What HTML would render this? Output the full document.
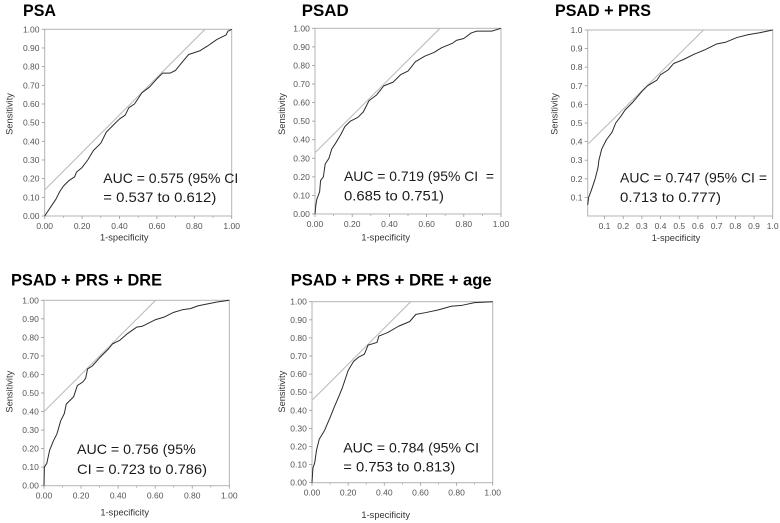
<!DOCTYPE html>
<html lang="en">
<head>
<meta charset="utf-8">
<title>ROC curves</title>
<style>
html,body{margin:0;padding:0;background:#fff;width:780px;height:523px;overflow:hidden}
svg{display:block;font-family:"Liberation Sans",sans-serif}
.title{font-size:17px;font-weight:bold;fill:#000}
.auc{font-size:14px;fill:#1a1a1a}
.axis-title{font-size:9.3px;fill:#333}
.tick-label{font-size:8.5px;fill:#555}
</style>
</head>
<body>
<svg id="chart" width="780" height="523" viewBox="0 0 780 523" xmlns="http://www.w3.org/2000/svg">
  <text class="title" x="23" y="16" textLength="33" lengthAdjust="spacingAndGlyphs">PSA</text>
  <text class="title" x="301.7" y="16" textLength="47" lengthAdjust="spacingAndGlyphs">PSAD</text>
  <text class="title" x="555" y="16" textLength="96" lengthAdjust="spacingAndGlyphs">PSAD + PRS</text>
  <text class="title" x="11" y="285.7" textLength="151" lengthAdjust="spacingAndGlyphs">PSAD + PRS + DRE</text>
  <text class="title" x="290.7" y="285.7" textLength="201" lengthAdjust="spacingAndGlyphs">PSAD + PRS + DRE + age</text>

  <text class="auc" x="103.3" y="183" textLength="135" lengthAdjust="spacingAndGlyphs">AUC = 0.575 (95% CI</text>
  <text class="auc" x="103.3" y="202" textLength="113" lengthAdjust="spacingAndGlyphs">= 0.537 to 0.612)</text>
  <text class="auc" x="344" y="181" textLength="150" lengthAdjust="spacingAndGlyphs" xml:space="preserve">AUC = 0.719 (95% CI  =</text>
  <text class="auc" x="344" y="200.7" textLength="100" lengthAdjust="spacingAndGlyphs">0.685 to 0.751)</text>
  <text class="auc" x="620" y="182.7" textLength="147" lengthAdjust="spacingAndGlyphs">AUC = 0.747 (95% CI =</text>
  <text class="auc" x="620" y="202" textLength="101" lengthAdjust="spacingAndGlyphs">0.713 to 0.777)</text>
  <text class="auc" x="77" y="454" textLength="118.7" lengthAdjust="spacingAndGlyphs">AUC = 0.756 (95%</text>
  <text class="auc" x="77" y="474" textLength="130" lengthAdjust="spacingAndGlyphs">CI = 0.723 to 0.786)</text>
  <text class="auc" x="343.3" y="452.3" textLength="135.7" lengthAdjust="spacingAndGlyphs">AUC = 0.784 (95% CI</text>
  <text class="auc" x="343.3" y="471.7" textLength="112" lengthAdjust="spacingAndGlyphs">= 0.753 to 0.813)</text>

  <text class="axis-title" x="124.3" y="240.7" text-anchor="middle">1-specificity</text>
  <text class="axis-title" x="385.7" y="240.7" text-anchor="middle">1-specificity</text>
  <text class="axis-title" x="676" y="241" text-anchor="middle">1-specificity</text>
  <text class="axis-title" x="124.7" y="515.7" text-anchor="middle">1-specificity</text>
  <text class="axis-title" x="385.7" y="518" text-anchor="middle">1-specificity</text>

  <text class="axis-title" text-anchor="middle" transform="translate(12.5 114) rotate(-90)">Sensitivity</text>
  <text class="axis-title" text-anchor="middle" transform="translate(285 114) rotate(-90)">Sensitivity</text>
  <text class="axis-title" text-anchor="middle" transform="translate(557.5 114) rotate(-90)">Sensitivity</text>
  <text class="axis-title" text-anchor="middle" transform="translate(12.5 391.7) rotate(-90)">Sensitivity</text>
  <text class="axis-title" text-anchor="middle" transform="translate(285 391.7) rotate(-90)">Sensitivity</text>
</svg>
<script>
// ---- Chart data ----
const psaFpr = [0,0.02,0.04,0.06,0.08,0.10,0.13,0.16,0.17,0.20,0.23,0.26,0.30,0.33,0.37,0.40,0.43,0.45,0.48,0.50,0.52,0.56,0.60,0.63,0.67,0.70,0.74,0.77,0.83,0.87,0.92,0.97,0.98,1];
const psaSens = [0,0.03,0.06,0.09,0.13,0.16,0.19,0.21,0.235,0.26,0.30,0.35,0.39,0.45,0.49,0.52,0.54,0.58,0.60,0.63,0.66,0.69,0.735,0.765,0.765,0.78,0.83,0.865,0.885,0.91,0.945,0.97,0.99,1];
const psaTangentX = [0,0.857];
const psaTangentY = [0.14,1];

const psadFpr = [0,0.005,0.01,0.025,0.03,0.045,0.055,0.075,0.09,0.11,0.14,0.16,0.19,0.23,0.26,0.29,0.33,0.37,0.42,0.46,0.50,0.54,0.59,0.64,0.68,0.74,0.76,0.80,0.84,0.87,0.95,1];
const psadSens = [0,0.05,0.08,0.12,0.18,0.20,0.27,0.30,0.35,0.38,0.43,0.47,0.50,0.52,0.55,0.61,0.64,0.69,0.71,0.75,0.77,0.82,0.85,0.87,0.895,0.92,0.935,0.945,0.975,0.985,0.985,1];
const psadTangentX = [0,0.672];
const psadTangentY = [0.33,1];

const prsFpr = [0.01,0.015,0.03,0.05,0.065,0.07,0.085,0.11,0.14,0.16,0.19,0.21,0.25,0.30,0.33,0.38,0.40,0.44,0.47,0.52,0.58,0.64,0.70,0.75,0.81,0.87,0.93,1];
const prsSens = [0.06,0.10,0.14,0.20,0.26,0.30,0.36,0.41,0.45,0.50,0.54,0.57,0.61,0.67,0.70,0.73,0.76,0.785,0.82,0.84,0.87,0.895,0.925,0.935,0.96,0.975,0.985,1];
const prsTangentX = [0.01,0.63];
const prsTangentY = [0.385,1];

const dreFpr = [0,0.002,0.015,0.03,0.05,0.07,0.09,0.11,0.12,0.16,0.18,0.21,0.225,0.235,0.26,0.30,0.35,0.37,0.41,0.45,0.50,0.53,0.60,0.65,0.70,0.75,0.79,0.83,0.88,0.93,1];
const dreSens = [0,0.10,0.12,0.19,0.24,0.28,0.35,0.39,0.44,0.48,0.54,0.56,0.58,0.63,0.645,0.69,0.74,0.765,0.785,0.82,0.855,0.86,0.895,0.91,0.935,0.95,0.955,0.97,0.98,0.99,1];
const dreTangentX = [0,0.602];
const dreTangentY = [0.40,1];

const ageFpr = [0,0.005,0.015,0.025,0.04,0.07,0.10,0.12,0.15,0.17,0.185,0.20,0.23,0.26,0.29,0.31,0.36,0.37,0.42,0.48,0.54,0.575,0.63,0.70,0.77,0.83,0.90,1];
const ageSens = [0,0.08,0.11,0.18,0.24,0.29,0.36,0.41,0.48,0.53,0.575,0.62,0.67,0.695,0.71,0.76,0.775,0.81,0.83,0.865,0.89,0.93,0.94,0.955,0.975,0.98,0.995,1];
const ageTangentX = [0,0.546];
const ageTangentY = [0.455,1];

const hundredthTicks = [0,0.2,0.4,0.6,0.8,1];
const hundredthMinor = [0.1,0.3,0.5,0.7,0.9];
const yTicksFull = [0,0.1,0.2,0.3,0.4,0.5,0.6,0.7,0.8,0.9,1];
const yTicksTenths = [0.1,0.2,0.3,0.4,0.5,0.6,0.7,0.8,0.9,1];
const xTicksTenths = [0.1,0.2,0.3,0.4,0.5,0.6,0.7,0.8,0.9,1];
const noTicks = [];

// ---- Layout ----
const NS = 'http://www.w3.org/2000/svg';
const root = document.getElementById('chart');

function add(tag, attrs, parent) {
  const el = document.createElementNS(NS, tag);
  for (const k in attrs) el.setAttribute(k, attrs[k]);
  parent.appendChild(el);
  return el;
}

function drawPanel(p) {
  const sx = v => p.left + (v - p.xMin) / (1 - p.xMin) * (p.right - p.left);
  const sy = v => p.bottom - v * (p.bottom - p.top);

  // Panels go underneath the static text so the AUC notes stay visible.
  const g = document.createElementNS(NS, 'g');
  root.insertBefore(g, root.firstChild);
  
  

  const frame = add('rect', {x: p.left, y: p.top, width: p.right - p.left, height: p.bottom - p.top, fill: '#fff', stroke: '#b4b4b4', 'stroke-width': 1}, g);
  
  

  p.yTicks.forEach(v => {
    const t = add('line', {x1: p.left - 3, x2: p.left, y1: sy(v), y2: sy(v), stroke: '#999', 'stroke-width': 0.8}, g);
    
    
    const l = add('text', {x: p.left - 5.2, y: sy(v) + 3, 'text-anchor': 'end', class: 'tick-label'}, g);
    
    
    l.textContent = v.toFixed(p.digits);
  });

  p.xTicks.forEach(v => {
    const t = add('line', {x1: sx(v), x2: sx(v), y1: p.bottom, y2: p.bottom + 3, stroke: '#999', 'stroke-width': 0.8}, g);
    
    
    const l = add('text', {x: sx(v), y: p.bottom + 13, 'text-anchor': 'middle', class: 'tick-label'}, g);
    
    
    l.textContent = v.toFixed(p.digits);
  });

  p.xMinor.forEach(v => {
    const t = add('line', {x1: sx(v), x2: sx(v), y1: p.bottom, y2: p.bottom + 2, stroke: '#aaa', 'stroke-width': 0.8}, g);
    
    
  });

  const tangent = add('line', {x1: sx(p.tangentX[0]), y1: sy(p.tangentY[0]), x2: sx(p.tangentX[1]), y2: sy(p.tangentY[1]), stroke: '#bdbdbd', 'stroke-width': 1.1}, g);
  
  

  const pts = p.fpr.map((v, i) => sx(v).toFixed(2) + ',' + sy(p.sens[i]).toFixed(2)).join(' ');
  const curve = add('polyline', {points: pts, fill: 'none', stroke: '#2b2b2b', 'stroke-width': 1, 'stroke-linejoin': 'round'}, g);
  
  
}

drawPanel({left: 44.7, right: 231.7, top: 29.3, bottom: 216, xMin: 0, digits: 2,
  xTicks: hundredthTicks, xMinor: hundredthMinor, yTicks: yTicksFull,
  fpr: psaFpr, sens: psaSens, tangentX: psaTangentX, tangentY: psaTangentY});
drawPanel({left: 315, right: 501, top: 28.3, bottom: 214, xMin: 0, digits: 2,
  xTicks: hundredthTicks, xMinor: hundredthMinor, yTicks: yTicksFull,
  fpr: psadFpr, sens: psadSens, tangentX: psadTangentX, tangentY: psadTangentY});
drawPanel({left: 587.7, right: 772.7, top: 30, bottom: 216, xMin: 0.01, digits: 1,
  xTicks: xTicksTenths, xMinor: noTicks, yTicks: yTicksTenths,
  fpr: prsFpr, sens: prsSens, tangentX: prsTangentX, tangentY: prsTangentY});
drawPanel({left: 44, right: 229.3, top: 300.3, bottom: 485.7, xMin: 0, digits: 2,
  xTicks: hundredthTicks, xMinor: hundredthMinor, yTicks: yTicksFull,
  fpr: dreFpr, sens: dreSens, tangentX: dreTangentX, tangentY: dreTangentY});
drawPanel({left: 312, right: 492.7, top: 301.7, bottom: 482.7, xMin: 0, digits: 2,
  xTicks: hundredthTicks, xMinor: hundredthMinor, yTicks: yTicksFull,
  fpr: ageFpr, sens: ageSens, tangentX: ageTangentX, tangentY: ageTangentY});
</script>
</body>
</html>
